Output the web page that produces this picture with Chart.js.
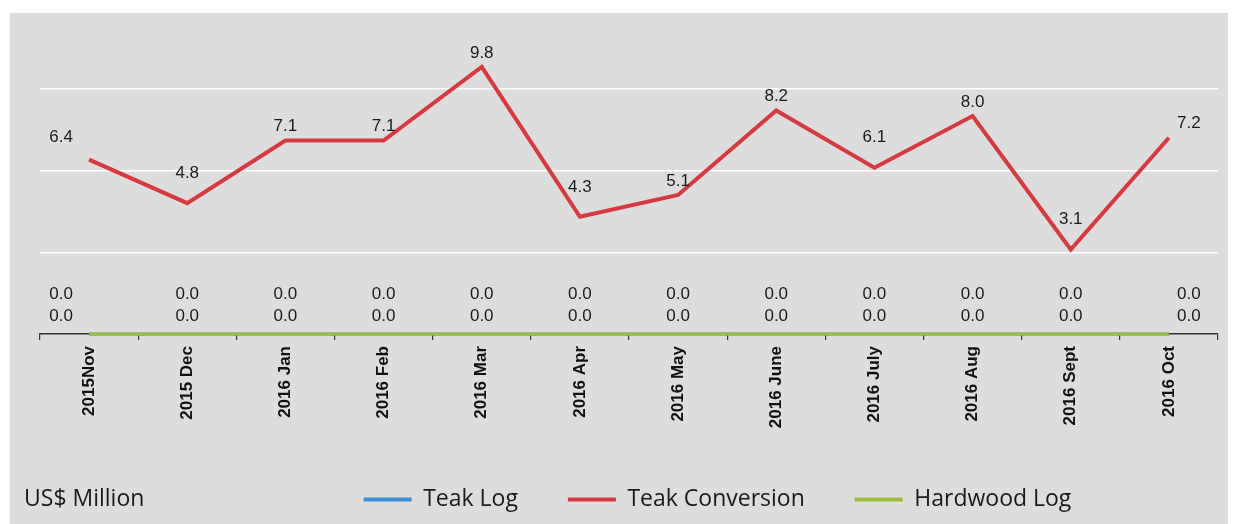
<!DOCTYPE html>
<html>
  <head>
    <meta charset="utf-8">
    <style>
      body {
        margin: 0;
        background-color: #ffffff;
      }
      .wrap {
        position: relative;
        width: 1235px;
        height: 524px;
      }
      .panel {
        position: absolute;
        left: 10px;
        top: 13px;
        width: 1218px;
        height: 511px;
        background-color: #dddddd;
      }
      .wrap canvas {
        position: absolute;
        left: 0;
        top: 0;
      }
    </style>
    <script src="https://cdn.jsdelivr.net/npm/chart.js"></script>
  </head>
  <body>
    <div class="wrap">
      <div class="panel"></div>
      <canvas id="exportChart" width="1235" height="524"></canvas>
    </div>

    <script>
      // data
      var months = ['2015Nov', '2015 Dec', '2016 Jan', '2016 Feb', '2016 Mar', '2016 Apr',
                    '2016 May', '2016 June', '2016 July', '2016 Aug', '2016 Sept', '2016 Oct'];
      var teakLog = [0, 0, 0, 0, 0, 0, 0, 0, 0, 0, 0, 0];
      var teakConversion = [6.4, 4.8, 7.1, 7.1, 9.8, 4.3, 5.1, 8.2, 6.1, 8.0, 3.1, 7.2];
      var hardwoodLog = [0, 0, 0, 0, 0, 0, 0, 0, 0, 0, 0, 0];
      var yMin = 0;
      var yMax = 12;
      var yStep = 3;
      var unitLabel = 'US$ Million';

      var legendFont = { family: '"Open Sans", sans-serif', size: 23 };
      var legendPad = 50;

      // value labels above the points (no datalabels plugin offline)
      var valueLabels = {
        id: 'valueLabels',
        afterDatasetsDraw: function(chart) {
          var ctx = chart.ctx;
          ctx.save();
          ctx.font = '17px "Liberation Sans", Arial, sans-serif';
          ctx.fillStyle = '#1a1a1a';
          ctx.textAlign = 'center';
          ctx.textBaseline = 'middle';
          chart.data.datasets.forEach(function(ds, di) {
            var meta = chart.getDatasetMeta(di);
            var n = ds.data.length;
            meta.data.forEach(function(pt, i) {
              var v = ds.data[i];
              var dx = 0;
              if (i === 0) dx = -28;
              else if (i === n - 1) dx = 20;
              var lift = ds.labelLift;
              if (v > 0) {
                // lift the label clear of the line at a dip
                var prev = i > 0 ? ds.data[i - 1] : null;
                var next = i < n - 1 ? ds.data[i + 1] : null;
                if (prev !== null && next !== null && v < prev && v < next) lift = 30;
                if (i === 0) lift = 22;
              }
              ctx.fillText(v.toFixed(1), pt.x + dx, pt.y - lift);
            });
          });
          ctx.restore();
        }
      };

      // legend sits right of the unit text, like the original
      var legendShift = {
        id: 'legendShift',
        afterLayout: function(chart) {
          var lg = chart.legend;
          lg.left = 200;
          lg.right = 1235;
          lg.width = lg.right - lg.left;
        },
        afterDraw: function(chart) {
          var lg = chart.legend;
          var ctx = chart.ctx;
          ctx.save();
          ctx.font = legendFont.size + 'px ' + legendFont.family;
          ctx.fillStyle = '#1a1a1a';
          ctx.textAlign = 'left';
          ctx.textBaseline = 'middle';
          ctx.fillText(unitLabel, 24, lg.top + legendPad + legendFont.size / 2);
          ctx.restore();
        }
      };

      var ctx = document.getElementById('exportChart').getContext('2d');
      new Chart(ctx, {
        type: 'line',
        data: {
          labels: months,
          datasets: [
            {
              label: 'Teak Log',
              data: teakLog,
              borderColor: '#3d8fd1',
              backgroundColor: '#3d8fd1',
              borderWidth: 3,
              pointRadius: 0,
              order: 2,
              clip: false,
              labelLift: 40
            },
            {
              label: 'Teak Conversion',
              data: teakConversion,
              borderColor: '#d63a40',
              backgroundColor: '#d63a40',
              borderWidth: 4,
              pointRadius: 0,
              order: 0,
              clip: false,
              labelLift: 14
            },
            {
              label: 'Hardwood Log',
              data: hardwoodLog,
              borderColor: '#9dbb3c',
              backgroundColor: '#9dbb3c',
              borderWidth: 3,
              pointRadius: 0,
              order: 1,
              clip: false,
              labelLift: 18
            }
          ]
        },
        options: {
          responsive: false,
          animation: false,
          events: [],
          layout: {
            // legend height = 23 + pad + 10, text centre ~500
            padding: { top: 7, right: 17, bottom: 3, left: 0 }
          },
          scales: {
            x: {
              type: 'category',
              offset: true,
              grid: {
                offset: true,
                drawOnChartArea: false,
                drawTicks: true,
                tickLength: 6,
                color: '#333333',
                lineWidth: 1.2
              },
              border: { display: true, color: '#333333', width: 1.5 },
              ticks: {
                autoSkip: false,
                maxRotation: 90,
                minRotation: 90,
                padding: 6,
                color: '#111111',
                font: { family: '"Liberation Sans", Arial, sans-serif', size: 17, weight: 'bold' }
              },
              afterFit: function(scale) { scale.height = 104; }
            },
            y: {
              min: yMin,
              max: yMax,
              ticks: { display: false, stepSize: yStep },
              border: { display: false },
              grid: {
                drawTicks: false,
                lineWidth: 1.5,
                color: function(c) { return c.tick && c.tick.value === 0 ? 'rgba(0,0,0,0)' : '#ffffff'; }
              },
              afterFit: function(scale) { scale.width = 40; }
            }
          },
          plugins: {
            legend: {
              display: true,
              position: 'bottom',
              labels: {
                boxWidth: 48,
                boxHeight: 4,
                padding: legendPad,
                color: '#1a1a1a',
                font: legendFont,
                sort: function(a, b) { return a.datasetIndex - b.datasetIndex; },
                generateLabels: function(chart) {
                  var items = Chart.defaults.plugins.legend.labels.generateLabels(chart);
                  items.forEach(function(it) {
                    var ds = chart.data.datasets[it.datasetIndex];
                    it.fillStyle = ds.borderColor;
                    it.strokeStyle = ds.borderColor;
                    it.lineWidth = 0;
                  });
                  return items;
                }
              }
            },
            tooltip: { enabled: false },
            title: { display: false }
          }
        },
        plugins: [valueLabels, legendShift]
      });
    </script>
  </body>
</html>
